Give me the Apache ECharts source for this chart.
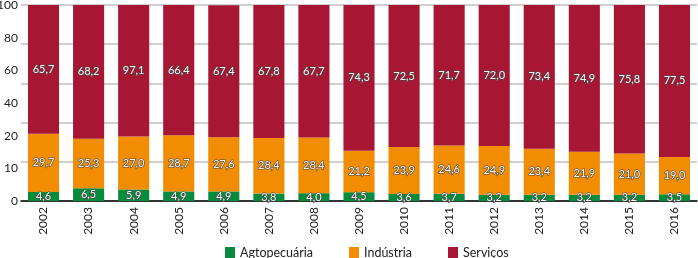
<!DOCTYPE html>
<html><head><meta charset="utf-8">
<script src="https://cdn.jsdelivr.net/npm/echarts@6/dist/echarts.min.js"></script>
<style>html,body{margin:0;padding:0;background:#fff}#c{width:698px;height:258px}</style>
</head><body><div id="c"></div>
<script>
const years = ['2002','2003','2004','2005','2006','2007','2008','2009','2010','2011','2012','2013','2014','2015','2016'];
const agro = [4.6,6.5,5.9,4.9,4.9,3.8,4.0,4.5,3.6,3.7,3.2,3.2,3.2,3.2,3.5];
const industria = [29.7,25.3,27.0,28.7,27.6,28.4,28.4,21.2,23.9,24.6,24.9,23.4,21.9,21.0,19.0];
const servicos = [65.7,68.2,97.1,66.4,67.4,67.8,67.7,74.3,72.5,71.7,72.0,73.4,74.9,75.8,77.5];
const yTickLabels = ['0','10','20','40','60','80','100'];
const seriesNames = ['Agtopecuária','Indústria','Serviços'];
const colors = ['#078B3C','#F28C00','#A71733'];

const font = 'Lato, "Open Sans", sans-serif';
const labelStyle = {
  show: true, position: 'inside', fontSize: 11, fontFamily: font,
  color: '#f4f4f4', textBorderColor: '#4a4a4a', textBorderWidth: 1.2,
  formatter: p => p.value.toFixed(1).replace('.', ',')
};
function mk(name, data, color) {
  return { name, type: 'bar', stack: 'total', data, barCategoryGap: '31%',
    itemStyle: { color }, label: labelStyle, clip: true, yAxisIndex: 0 };
}
const chart = echarts.init(document.getElementById('c'), null, {renderer: 'canvas'});
chart.setOption({
  animation: false,
  textStyle: { fontFamily: font },
  grid: { left: 21, right: 1, top: 5, bottom: 57, containLabel: false, outerBoundsMode: 'none' },
  legend: {
    left: 225, top: 246, itemWidth: 10, itemHeight: 11, itemGap: 36,
    icon: 'rect', padding: 0,
    textStyle: { fontSize: 12.5, color: '#222', fontFamily: font },
    data: seriesNames
  },
  xAxis: {
    type: 'category', data: years,
    axisLine: { lineStyle: { color: '#000', width: 1.5 } },
    axisTick: { show: false },
    axisLabel: { rotate: 90, margin: 6, fontSize: 12, color: '#222', fontFamily: font, interval: 0 }
  },
  yAxis: [
    { type: 'value', min: 0, max: 100, interval: 20, position: 'left',
      axisLine: { show: false }, axisTick: { show: false }, axisLabel: { show: false },
      splitLine: { lineStyle: { color: '#c0c0c0', width: 1.5 } } },
    { type: 'value', min: 0, max: 6, interval: 1, position: 'left', offset: 0,
      axisLine: { show: false }, axisTick: { show: false }, splitLine: { show: false },
      axisLabel: { margin: 3, fontSize: 12, color: '#222', fontFamily: font,
        formatter: v => yTickLabels[Math.round(v)] } }
  ],
  series: [
    mk(seriesNames[0], agro, colors[0]),
    mk(seriesNames[1], industria, colors[1]),
    mk(seriesNames[2], servicos, colors[2])
  ]
});
</script></body></html>
